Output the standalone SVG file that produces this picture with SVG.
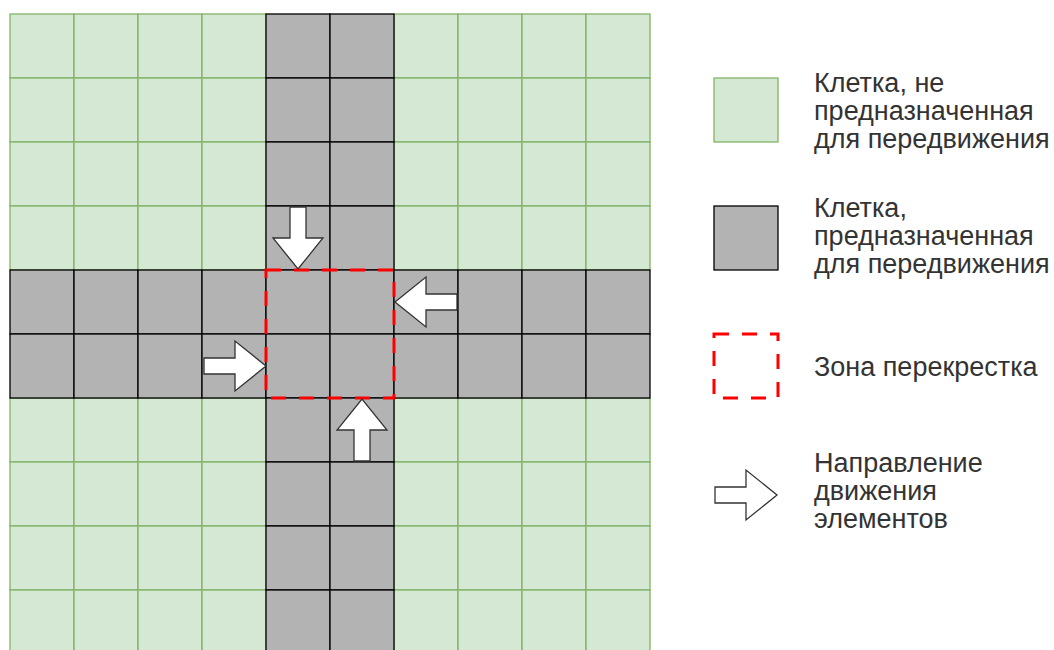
<svg xmlns="http://www.w3.org/2000/svg" xmlns:xlink="http://www.w3.org/1999/xlink" width="1054" height="650" viewBox="0 0 1054 650">
<style>
.g{fill:#d5e8d4;stroke:#82b366;stroke-width:1.3}
.r{fill:#b3b3b3;stroke:#000;stroke-width:1.3}
.zone{fill:none;stroke:#ff0000;stroke-width:3;stroke-dasharray:15 13}
.arr{fill:#fff;stroke:#333;stroke-width:1.3;stroke-linejoin:miter}
.t{font-family:"Liberation Sans",Arial,sans-serif;font-size:27px;fill:#333}
</style>
<defs>
<path id="arrow" d="M0,-8 H31 V-25 L62,0 L31,25 V8 H0 Z"/>
</defs>
<rect width="1054" height="650" fill="#fff"/>
<g id="green-cells">
<rect class="g" x="10" y="14" width="64" height="64"/><rect class="g" x="74" y="14" width="64" height="64"/><rect class="g" x="138" y="14" width="64" height="64"/><rect class="g" x="202" y="14" width="64" height="64"/><rect class="g" x="394" y="14" width="64" height="64"/><rect class="g" x="458" y="14" width="64" height="64"/><rect class="g" x="522" y="14" width="64" height="64"/><rect class="g" x="586" y="14" width="64" height="64"/>
<rect class="g" x="10" y="78" width="64" height="64"/><rect class="g" x="74" y="78" width="64" height="64"/><rect class="g" x="138" y="78" width="64" height="64"/><rect class="g" x="202" y="78" width="64" height="64"/><rect class="g" x="394" y="78" width="64" height="64"/><rect class="g" x="458" y="78" width="64" height="64"/><rect class="g" x="522" y="78" width="64" height="64"/><rect class="g" x="586" y="78" width="64" height="64"/>
<rect class="g" x="10" y="142" width="64" height="64"/><rect class="g" x="74" y="142" width="64" height="64"/><rect class="g" x="138" y="142" width="64" height="64"/><rect class="g" x="202" y="142" width="64" height="64"/><rect class="g" x="394" y="142" width="64" height="64"/><rect class="g" x="458" y="142" width="64" height="64"/><rect class="g" x="522" y="142" width="64" height="64"/><rect class="g" x="586" y="142" width="64" height="64"/>
<rect class="g" x="10" y="206" width="64" height="64"/><rect class="g" x="74" y="206" width="64" height="64"/><rect class="g" x="138" y="206" width="64" height="64"/><rect class="g" x="202" y="206" width="64" height="64"/><rect class="g" x="394" y="206" width="64" height="64"/><rect class="g" x="458" y="206" width="64" height="64"/><rect class="g" x="522" y="206" width="64" height="64"/><rect class="g" x="586" y="206" width="64" height="64"/>
<rect class="g" x="10" y="398" width="64" height="64"/><rect class="g" x="74" y="398" width="64" height="64"/><rect class="g" x="138" y="398" width="64" height="64"/><rect class="g" x="202" y="398" width="64" height="64"/><rect class="g" x="394" y="398" width="64" height="64"/><rect class="g" x="458" y="398" width="64" height="64"/><rect class="g" x="522" y="398" width="64" height="64"/><rect class="g" x="586" y="398" width="64" height="64"/>
<rect class="g" x="10" y="462" width="64" height="64"/><rect class="g" x="74" y="462" width="64" height="64"/><rect class="g" x="138" y="462" width="64" height="64"/><rect class="g" x="202" y="462" width="64" height="64"/><rect class="g" x="394" y="462" width="64" height="64"/><rect class="g" x="458" y="462" width="64" height="64"/><rect class="g" x="522" y="462" width="64" height="64"/><rect class="g" x="586" y="462" width="64" height="64"/>
<rect class="g" x="10" y="526" width="64" height="64"/><rect class="g" x="74" y="526" width="64" height="64"/><rect class="g" x="138" y="526" width="64" height="64"/><rect class="g" x="202" y="526" width="64" height="64"/><rect class="g" x="394" y="526" width="64" height="64"/><rect class="g" x="458" y="526" width="64" height="64"/><rect class="g" x="522" y="526" width="64" height="64"/><rect class="g" x="586" y="526" width="64" height="64"/>
<rect class="g" x="10" y="590" width="64" height="64"/><rect class="g" x="74" y="590" width="64" height="64"/><rect class="g" x="138" y="590" width="64" height="64"/><rect class="g" x="202" y="590" width="64" height="64"/><rect class="g" x="394" y="590" width="64" height="64"/><rect class="g" x="458" y="590" width="64" height="64"/><rect class="g" x="522" y="590" width="64" height="64"/><rect class="g" x="586" y="590" width="64" height="64"/>
</g>
<g id="road-cells">
<rect class="r" x="266" y="14" width="64" height="64"/><rect class="r" x="330" y="14" width="64" height="64"/>
<rect class="r" x="266" y="78" width="64" height="64"/><rect class="r" x="330" y="78" width="64" height="64"/>
<rect class="r" x="266" y="142" width="64" height="64"/><rect class="r" x="330" y="142" width="64" height="64"/>
<rect class="r" x="266" y="206" width="64" height="64"/><rect class="r" x="330" y="206" width="64" height="64"/>
<rect class="r" x="10" y="270" width="64" height="64"/><rect class="r" x="74" y="270" width="64" height="64"/><rect class="r" x="138" y="270" width="64" height="64"/><rect class="r" x="202" y="270" width="64" height="64"/><rect class="r" x="266" y="270" width="64" height="64"/><rect class="r" x="330" y="270" width="64" height="64"/><rect class="r" x="394" y="270" width="64" height="64"/><rect class="r" x="458" y="270" width="64" height="64"/><rect class="r" x="522" y="270" width="64" height="64"/><rect class="r" x="586" y="270" width="64" height="64"/>
<rect class="r" x="10" y="334" width="64" height="64"/><rect class="r" x="74" y="334" width="64" height="64"/><rect class="r" x="138" y="334" width="64" height="64"/><rect class="r" x="202" y="334" width="64" height="64"/><rect class="r" x="266" y="334" width="64" height="64"/><rect class="r" x="330" y="334" width="64" height="64"/><rect class="r" x="394" y="334" width="64" height="64"/><rect class="r" x="458" y="334" width="64" height="64"/><rect class="r" x="522" y="334" width="64" height="64"/><rect class="r" x="586" y="334" width="64" height="64"/>
<rect class="r" x="266" y="398" width="64" height="64"/><rect class="r" x="330" y="398" width="64" height="64"/>
<rect class="r" x="266" y="462" width="64" height="64"/><rect class="r" x="330" y="462" width="64" height="64"/>
<rect class="r" x="266" y="526" width="64" height="64"/><rect class="r" x="330" y="526" width="64" height="64"/>
<rect class="r" x="266" y="590" width="64" height="64"/><rect class="r" x="330" y="590" width="64" height="64"/>
</g>
<g id="intersection-zone">
<rect class="zone" x="266" y="270" width="128" height="128"/>
</g>
<g id="arrow-down"><use xlink:href="#arrow" class="arr" transform="translate(298,207) rotate(90)"/></g>
<g id="arrow-left"><use xlink:href="#arrow" class="arr" transform="translate(457,302) rotate(180)"/></g>
<g id="arrow-right"><use xlink:href="#arrow" class="arr" transform="translate(204,366)"/></g>
<g id="arrow-up"><use xlink:href="#arrow" class="arr" transform="translate(362,461) rotate(-90)"/></g>
<g id="legend-green">
<rect class="g" x="714" y="78" width="64" height="64"/>
<text class="t" x="814" y="92">Клетка, не</text>
<text class="t" x="814" y="120">предназначенная</text>
<text class="t" x="814" y="148">для передвижения</text>
</g>
<g id="legend-road">
<rect class="r" x="714" y="206" width="64" height="64"/>
<text class="t" x="814" y="217">Клетка,</text>
<text class="t" x="814" y="245">предназначенная</text>
<text class="t" x="814" y="273">для передвижения</text>
</g>
<g id="legend-zone">
<rect class="zone" x="714" y="334" width="64" height="64"/>
<text class="t" x="814" y="376">Зона перекрестка</text>
</g>
<g id="legend-arrow">
<use xlink:href="#arrow" class="arr" transform="translate(715,495)"/>
<text class="t" x="814" y="472">Направление</text>
<text class="t" x="814" y="500">движения</text>
<text class="t" x="814" y="528">элементов</text>
</g>
</svg>
